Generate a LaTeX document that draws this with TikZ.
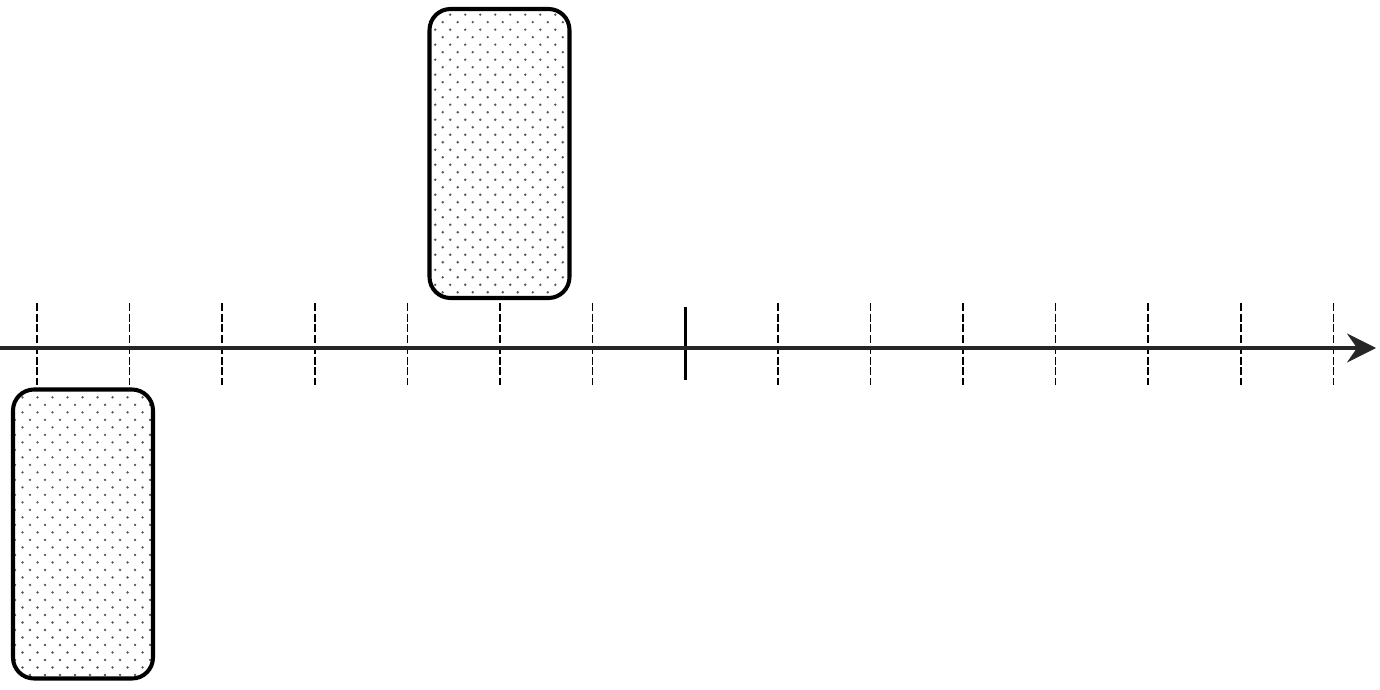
\documentclass[tikz,border=0pt]{standalone}
\usepackage{xcolor}
\usepackage{tikz}
\usetikzlibrary{arrows.meta,patterns}
\definecolor{dotgray}{HTML}{555555}
\pgfdeclarepatternformonly{slotdots}{\pgfqpoint{-1pt}{-1pt}}{\pgfqpoint{9.5pt}{9.5pt}}{\pgfqpoint{8.54pt}{8.54pt}}{
  \pgfpathcircle{\pgfqpoint{0pt}{0pt}}{0.75pt}
  \pgfpathcircle{\pgfqpoint{4.27pt}{4.27pt}}{0.75pt}
  \pgfusepath{fill}
}
\tikzset{
  slotbox/.style={
    draw=black,
    line width=2.3pt,
    rounded corners=0.42cm,
    pattern=slotdots,
    pattern color=dotgray,
    minimum width=2.8cm,
    minimum height=5.78cm,
    inner sep=0pt
  },
  tickmark/.style={
    draw=black,
    line width=0.9pt,
    dash pattern=on 4.5pt off 1.6pt
  },
  nowmark/.style={
    draw=black,
    line width=1.9pt
  },
  axisarrow/.style={
    -{Stealth[length=5.8mm,width=5.8mm,inset=2mm]},
    line width=2.1pt,
    draw=black!85
  }
}
\begin{document}
\begin{tikzpicture}
    \useasboundingbox (0,0) rectangle (27.6,-13.8);

    \coordinate (axisstart) at (0,-6.96);
    \coordinate (axisend) at (27.52,-6.96);

    \foreach \i in {0,...,14}{
        \ifnum\i=7
            \draw[nowmark] ({0.74+1.852*\i},-6.14) -- ({0.74+1.852*\i},-7.6);
        \else
            \draw[tickmark] ({0.74+1.852*\i},-6.06) -- ({0.74+1.852*\i},-7.7);
        \fi
    }

    \draw[axisarrow] (axisstart) -- (axisend);

    \node[slotbox] (lowslot) at (1.66,-10.68) {};
    \node[slotbox] (highslot) at (9.99,-3.07) {};
\end{tikzpicture}
\end{document}
